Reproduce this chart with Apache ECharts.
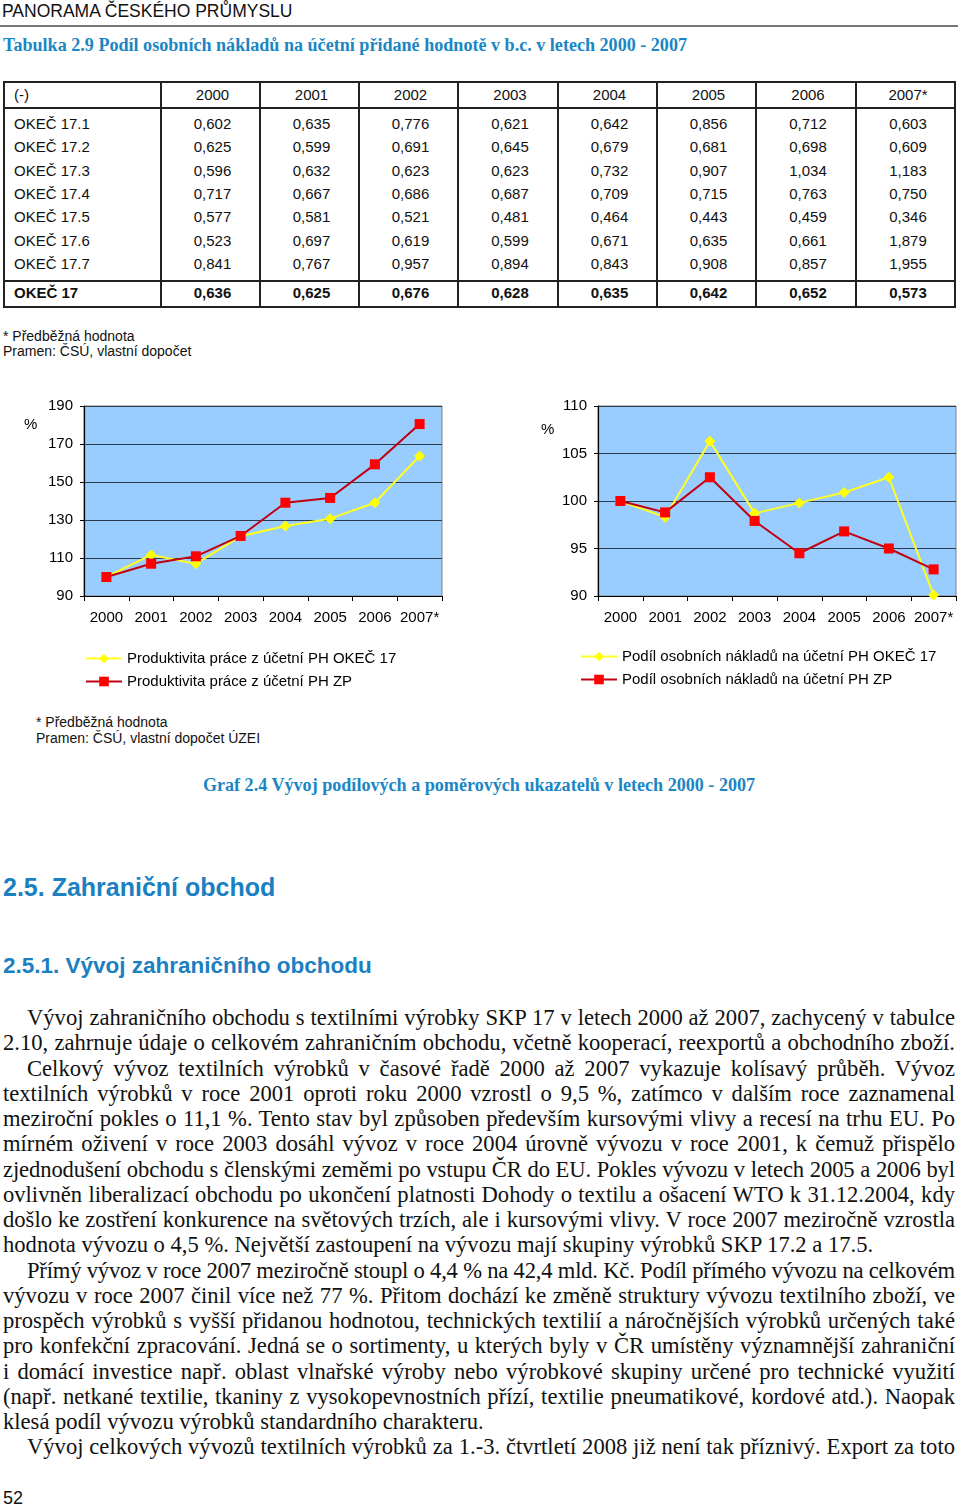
<!DOCTYPE html>
<html><head><meta charset="utf-8">
<script src="https://cdn.jsdelivr.net/npm/echarts@6/dist/echarts.min.js"></script>
<style>
html,body{margin:0;padding:0;background:#fff;}
#page{position:relative;width:960px;height:1508px;overflow:hidden;font-family:"Liberation Sans",Arial,sans-serif;color:#111;}
.abs{position:absolute;white-space:nowrap;}
.serifTitle{font-family:"Liberation Serif","Times New Roman",serif;font-weight:bold;color:#1a86c4;font-size:18.1px;}
.tcell{position:absolute;font-size:15px;line-height:18px;white-space:nowrap;}
.line{position:absolute;background:#222;}
.bodyline{position:absolute;font-family:"Liberation Serif","Times New Roman",serif;font-size:22.6px;line-height:25px;white-space:nowrap;color:#111;}
.just{text-align:justify;text-align-last:justify;white-space:normal;height:25px;overflow:visible;}
</style></head>
<body><div id="page">
<div class="abs" style="left:2px;top:1px;font-size:17.5px;">PANORAMA ČESKÉHO PRŮMYSLU</div>
<div class="line" style="left:0;top:25px;width:958px;height:2px;background:#777;"></div>
<div class="abs serifTitle" style="left:3px;top:35px;">Tabulka 2.9 Podíl osobních nákladů na účetní přidané hodnotě v b.c. v letech 2000 - 2007</div>
<div id="table"></div>
<div class="abs" style="left:3px;top:328px;font-size:14px;">* Předběžná hodnota</div>
<div class="abs" style="left:3px;top:343px;font-size:14px;">Pramen: ČSÚ, vlastní dopočet</div>
<div id="chart" style="position:absolute;left:0;top:390px;width:960px;height:310px;"></div>
<div class="abs" style="left:36px;top:714px;font-size:14px;">* Předběžná hodnota</div>
<div class="abs" style="left:36px;top:730px;font-size:14px;">Pramen: ČSÚ, vlastní dopočet ÚZEI</div>
<div class="abs serifTitle" style="left:0;width:958px;text-align:center;top:775px;">Graf 2.4 Vývoj podílových a poměrových ukazatelů v letech 2000 - 2007</div>
<div class="abs" style="left:3px;top:873px;font-size:25px;font-weight:bold;color:#1a80c2;">2.5. Zahraniční obchod</div>
<div class="abs" style="left:3px;top:953px;font-size:22.5px;font-weight:bold;color:#1a80c2;">2.5.1. Vývoj zahraničního obchodu</div>
<div id="text"></div>
<div class="abs" style="left:3px;top:1488px;font-size:18px;">52</div>
</div>
<script>
// ---- table data ----
var years = ['2000','2001','2002','2003','2004','2005','2006','2007*'];
var rowLabels = ['OKEČ 17.1','OKEČ 17.2','OKEČ 17.3','OKEČ 17.4','OKEČ 17.5','OKEČ 17.6','OKEČ 17.7'];
var okec171 = ['0,602','0,635','0,776','0,621','0,642','0,856','0,712','0,603'];
var okec172 = ['0,625','0,599','0,691','0,645','0,679','0,681','0,698','0,609'];
var okec173 = ['0,596','0,632','0,623','0,623','0,732','0,907','1,034','1,183'];
var okec174 = ['0,717','0,667','0,686','0,687','0,709','0,715','0,763','0,750'];
var okec175 = ['0,577','0,581','0,521','0,481','0,464','0,443','0,459','0,346'];
var okec176 = ['0,523','0,697','0,619','0,599','0,671','0,635','0,661','1,879'];
var okec177 = ['0,841','0,767','0,957','0,894','0,843','0,908','0,857','1,955'];
var totalLabel = 'OKEČ 17';
var okec17 = ['0,636','0,625','0,676','0,628','0,635','0,642','0,652','0,573'];

// ---- chart data ----
var chartYears = ['2000','2001','2002','2003','2004','2005','2006','2007*'];
var prodOkec = [100, 111.6, 107.0, 121.4, 126.8, 130.7, 139.1, 163.7];
var prodZP   = [100, 107.0, 110.9, 121.6, 139.1, 141.6, 159.3, 180.5];
var podilOkec = [100, 98.3, 106.3, 98.7, 99.8, 100.9, 102.5, 90.1];
var podilZP   = [100, 98.8, 102.5, 97.9, 94.5, 96.8, 95.0, 92.8];
var leftTicks = {min:90, max:190, interval:20};
var rightTicks = {min:90, max:110, interval:5};
var names = ['Produktivita práce z účetní PH OKEČ 17','Produktivita práce z účetní PH ZP',
             'Podíl osobních nákladů na účetní PH OKEČ 17','Podíl osobních nákladů na účetní PH ZP'];

// ---- body text ----
var bodyLines = [
 ['Vývoj zahraničního obchodu s textilními výrobky SKP 17 v letech 2000 až 2007, zachycený v tabulce',1,1],
 ['2.10, zahrnuje údaje o celkovém zahraničním obchodu, včetně kooperací, reexportů a obchodního zboží.',0,1],
 ['Celkový vývoz  textilních výrobků v časové řadě 2000 až 2007 vykazuje kolísavý průběh. Vývoz',1,1],
 ['textilních výrobků v roce 2001 oproti roku 2000 vzrostl o 9,5 %, zatímco v dalším roce zaznamenal',0,1],
 ['meziroční pokles o 11,1 %. Tento stav byl způsoben především kursovými vlivy a recesí na trhu EU. Po',0,1],
 ['mírném oživení v roce 2003 dosáhl vývoz v roce 2004 úrovně vývozu v roce 2001, k čemuž přispělo',0,1],
 ['zjednodušení obchodu s členskými zeměmi po vstupu ČR do EU. Pokles vývozu v letech 2005 a 2006 byl',0,1],
 ['ovlivněn liberalizací obchodu po ukončení platnosti Dohody o textilu a ošacení WTO k 31.12.2004, kdy',0,1],
 ['došlo ke zostření konkurence na světových trzích, ale i  kursovými vlivy. V roce 2007 meziročně vzrostla',0,1],
 ['hodnota vývozu o 4,5 %. Největší zastoupení na vývozu mají skupiny výrobků SKP 17.2 a 17.5.',0,0],
 ['Přímý vývoz v roce 2007 meziročně stoupl o 4,4 % na 42,4 mld. Kč. Podíl přímého vývozu na celkovém',1,1],
 ['vývozu v roce 2007 činil více než 77 %. Přitom dochází ke změně struktury vývozu textilního zboží, ve',0,1],
 ['prospěch výrobků s vyšší přidanou hodnotou, technických textilií a náročnějších výrobků určených také',0,1],
 ['pro konfekční zpracování. Jedná se o sortimenty, u kterých byly v ČR umístěny významnější zahraniční',0,1],
 ['i domácí investice např. oblast vlnařské výroby nebo výrobkové skupiny určené pro technické využití',0,1],
 ['(např. netkané textilie, tkaniny z vysokopevnostních přízí, textilie pneumatikové, kordové atd.). Naopak',0,1],
 ['klesá podíl vývozu výrobků standardního charakteru.',0,0],
 ['Vývoj celkových vývozů textilních výrobků za 1.-3. čtvrtletí 2008 již není tak příznivý. Export za toto',1,1]
];

// build table
(function(){
  var host = document.getElementById('table');
  var colX = [3,160,259,358,457,557,656,755,855,955];
  var top = 81, headBot = 107, totTop = 280, bot = 307;
  var html = '';
  function ln(x,y,w,h,c){ html += '<div class="line" style="left:'+x+'px;top:'+y+'px;width:'+w+'px;height:'+h+'px;'+(c?'background:'+c:'')+'"></div>'; }
  ln(3,top,953,2); ln(3,bot-1,953,2); ln(3,top,2,bot-top+1); ln(954,top,2,bot-top+1);
  for (var i=1;i<colX.length-1;i++) ln(colX[i],top,1.5,bot-top);
  ln(3,headBot,953,1.5); ln(3,totTop,953,2);
  function cell(txt,ci,yc,bold){
    var st = bold?'font-weight:bold;':'';
    if (ci===0) html += '<div class="tcell" style="left:14px;top:'+(yc-9)+'px;'+st+'">'+txt+'</div>';
    else { var l=colX[ci], w=colX[ci+1]-colX[ci]; html += '<div class="tcell" style="left:'+(l+3)+'px;width:'+w+'px;text-align:center;top:'+(yc-9)+'px;'+st+'">'+txt+'</div>'; }
  }
  cell('(-)',0,95);
  years.forEach(function(y,i){ cell(y,i+1,95); });
  var rows=[okec171,okec172,okec173,okec174,okec175,okec176,okec177];
  rows.forEach(function(r,ri){ var yc=124+ri*23.35; cell(rowLabels[ri],0,yc); r.forEach(function(v,i){cell(v,i+1,yc);}); });
  var yc=293; cell(totalLabel,0,yc,true); okec17.forEach(function(v,i){cell(v,i+1,yc,true);});
  host.innerHTML = html;
})();

// body text
(function(){
  var host=document.getElementById('text'); var html='';
  bodyLines.forEach(function(l,i){
    var yc = 1018 + i*25.25;
    var left = l[1]?27:3;
    var cls = 'bodyline'+(l[2]?' just':'');
    html += '<div class="'+cls+'" style="left:'+left+'px;width:'+(955-left)+'px;top:'+(yc-13)+'px;">'+l[0]+'</div>';
  });
  host.innerHTML=html;
  // shrink any justified line that would wrap
  var els = host.querySelectorAll('.just');
  els.forEach(function(el){
    var fs = 22.6, ls = 0;
    while (el.scrollHeight > 30 && ls > -1.5) { ls -= 0.1; el.style.letterSpacing = ls.toFixed(2)+'px'; }
  });
})();

// charts
var chart = echarts.init(document.getElementById('chart'), null, {renderer:'canvas'});
var font = 'Liberation Sans';
function xAx(gi){ return {type:'category', gridIndex:gi, data:chartYears, boundaryGap:true,
  axisLine:{lineStyle:{color:'#000',width:1.2}}, axisTick:{show:true,length:5,lineStyle:{color:'#000'}},
  axisLabel:{color:'#000',fontSize:15,fontFamily:font,margin:14,interval:0}}; }
function yAx(gi,t){ return {type:'value', gridIndex:gi, min:t.min, max:t.max, interval:t.interval,
  axisLine:{show:true,lineStyle:{color:'#000',width:1.2}}, axisTick:{show:true,length:4,lineStyle:{color:'#000'}},
  axisLabel:{color:'#000',fontSize:15,fontFamily:font,margin:11},
  splitLine:{show:true,lineStyle:{color:'#2c3a4a',width:1}}}; }
function ser(name,gi,data,yellow){ return {name:name,type:'line',xAxisIndex:gi,yAxisIndex:gi,data:data,
  symbol:yellow?'diamond':'rect', symbolSize:yellow?11:10, z:yellow?2:3,
  itemStyle:{color:yellow?'#FFFF00':'#FF0000'},
  lineStyle:{color:yellow?'#FFFF22':'#C00010',width:2}, animation:false}; }
chart.setOption({
  animation:false,
  textStyle:{fontFamily:font},
  grid:[
    {left:84,top:16,width:358,height:190,show:true,backgroundColor:'#99CCFF',borderColor:'#808080',borderWidth:1},
    {left:598,top:16,width:358,height:190,show:true,backgroundColor:'#99CCFF',borderColor:'#808080',borderWidth:1}
  ],
  xAxis:[xAx(0),xAx(1)],
  yAxis:[yAx(0,leftTicks),yAx(1,rightTicks)],
  legend:[
    {data:[names[0],names[1]],orient:'vertical',left:80,top:256,itemWidth:36,itemHeight:12,itemGap:8,
     textStyle:{fontSize:15,color:'#000',fontFamily:font}},
    {data:[names[2],names[3]],orient:'vertical',left:575,top:254,itemWidth:36,itemHeight:12,itemGap:8,
     textStyle:{fontSize:15,color:'#000',fontFamily:font}}
  ],
  graphic:[
    {type:'text',left:24,top:27,style:{text:'%',fontSize:15,fill:'#000',fontFamily:font}},
    {type:'text',left:541,top:32,style:{text:'%',fontSize:15,fill:'#000',fontFamily:font}}
  ],
  series:[ser(names[0],0,prodOkec,true),ser(names[1],0,prodZP,false),
          ser(names[2],1,podilOkec,true),ser(names[3],1,podilZP,false)]
});
</script>
</body></html>
